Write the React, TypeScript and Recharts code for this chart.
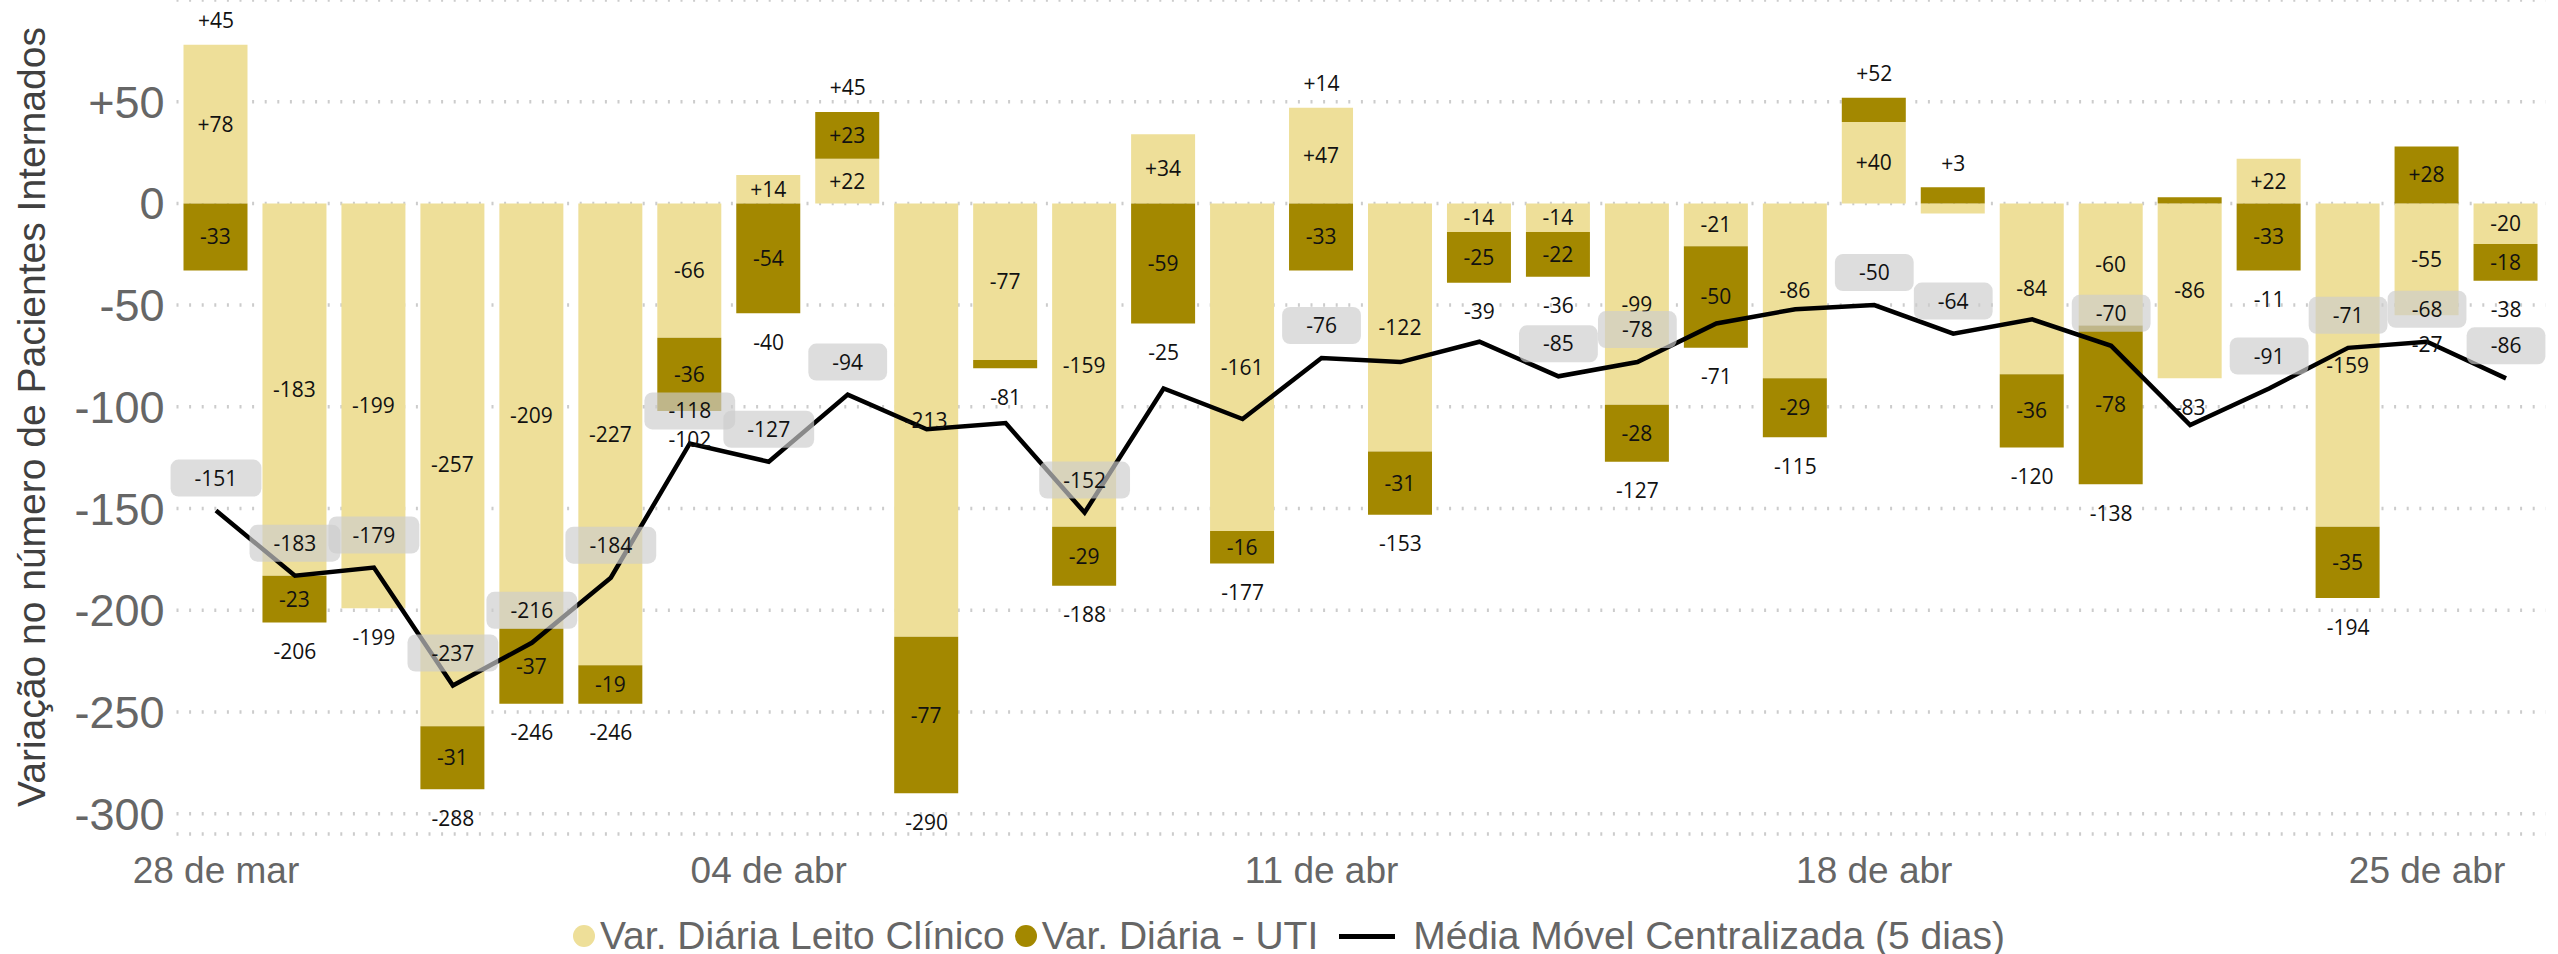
import { Bar, CartesianGrid, ComposedChart, LabelList, Line, XAxis, YAxis } from "recharts";

const dias = [
  "28 de mar", "29 de mar", "30 de mar", "31 de mar", "01 de abr", "02 de abr", "03 de abr",
  "04 de abr", "05 de abr", "06 de abr", "07 de abr", "08 de abr", "09 de abr", "10 de abr",
  "11 de abr", "12 de abr", "13 de abr", "14 de abr", "15 de abr", "16 de abr", "17 de abr",
  "18 de abr", "19 de abr", "20 de abr", "21 de abr", "22 de abr", "23 de abr", "24 de abr",
  "25 de abr", "26 de abr",
];

// Var. Diária Leito Clínico
const leitoClinico = [
  78, -183, -199, -257, -209, -227, -66, 14, 22, -213, -77, -159, 34, -161, 47,
  -122, -14, -14, -99, -21, -86, 40, -5, -84, -60, -86, 22, -159, -55, -20,
];

// Var. Diária - UTI
const uti = [
  -33, -23, 0, -31, -37, -19, -36, -54, 23, -77, -4, -29, -59, -16, -33,
  -31, -25, -22, -28, -50, -29, 12, 8, -36, -78, 3, -33, -35, 28, -18,
];

// Média Móvel Centralizada (5 dias)
const mediaMovel = [
  -151, -183, -179, -237, -216, -184, -118, -127, -94, -111, -108, -152, -91, -106, -76,
  -78, -68, -85, -78, -59, -52, -50, -64, -57, -70, -109, -91, -71, -68, -86,
];

// rótulos da média que o Power BI escondeu por sobreposição
const mediaSemRotulo = [9, 10, 12, 13, 15, 16, 19, 20, 23, 25];

const yTicks = [50, 0, -50, -100, -150, -200, -250, -300];

const CLARO = "#EEDF99";
const ESCURO = "#A38800";
const LABEL_FONT = "'Open Sans', 'Noto Sans', sans-serif";
const AXIS_FONT = "'Liberation Sans', Arial, sans-serif";

const data = dias.map((d, i) => {
  const c = leitoClinico[i];
  const u = uti[i];
  const total = c + u;
  const pos = Math.max(0, c) + Math.max(0, u);
  const neg = Math.min(0, c) + Math.min(0, u);
  return { dia: d, clinico: c, uti: u, total, ancora: total >= 0 ? pos : neg, media: mediaMovel[i] };
});

const fmt = (v: number) => (v > 0 ? `+${v}` : `${v}`);

const segmentLabel = (props: any) => {
  const vb = props.viewBox || props;
  const v = Number(props.value);
  if (!v || Math.abs(v) < 13) return null;
  const cx = vb.x + vb.width / 2;
  const cy = vb.y + vb.height / 2;
  return (
    <text x={cx} y={cy + 7.5} textAnchor="middle" fontFamily={LABEL_FONT} fontSize={21} fill="#111">
      {fmt(v)}
    </text>
  );
};

const totalLabel = (props: any) => {
  const vb = props.viewBox || props;
  const i = props.index;
  const t = data[i].total;
  const y = t >= 0 ? vb.y - 16.5 : vb.y + 36.5;
  return (
    <text key={`t-${i}`} x={vb.x} y={y} textAnchor="middle" fontFamily={LABEL_FONT} fontSize={21} fill="#111">
      {fmt(t)}
    </text>
  );
};

const mediaLabel = (props: any) => {
  const vb = props.viewBox || props;
  const i = props.index;
  if (mediaSemRotulo.includes(i)) return null;
  const txt = fmt(mediaMovel[i]);
  const digits = txt.replace("-", "").length;
  const w = 48 + 6.8 + digits * 12;
  const h = 37;
  const top = vb.y - 14 - h;
  return (
    <g key={`m-${i}`}>
      <rect x={vb.x - w / 2} y={top} width={w} height={h} rx={8} ry={8} fill="#cdcdcd" fillOpacity={0.67} />
      <text x={vb.x} y={top + h / 2 + 7.5} textAnchor="middle" fontFamily={LABEL_FONT} fontSize={21} fill="#111">
        {txt}
      </text>
    </g>
  );
};

const YTick = (props: any) => (
  <text x={props.x} y={props.y + 16} textAnchor="end" fontFamily={AXIS_FONT} fontSize={45} fill="#666">
    {fmt(props.payload.value)}
  </text>
);

const XTick = (props: any) => (
  <text x={props.x} y={props.y + 49} textAnchor="middle" fontFamily={AXIS_FONT} fontSize={37} fill="#666">
    {props.payload.value}
  </text>
);

const yTitle = (props: any) => {
  const vb = props.viewBox;
  const cy = vb.y + vb.height / 2;
  return (
    <text
      x={45}
      y={cy}
      transform={`rotate(-90, 45, ${cy})`}
      textAnchor="middle"
      fontFamily={AXIS_FONT}
      fontSize={39}
      fill="#404040"
    >
      Variação no número de Pacientes Internados
    </text>
  );
};

function Legenda() {
  const dot = (c: string) => (
    <span style={{ width: 22, height: 22, borderRadius: 11, background: c, display: "inline-block", marginRight: 5 }} />
  );
  return (
    <div
      style={{
        position: "absolute",
        left: 573,
        top: 911,
        height: 50,
        display: "flex",
        alignItems: "center",
        fontFamily: AXIS_FONT,
        fontSize: 39,
        color: "#666",
        whiteSpace: "nowrap",
        lineHeight: "50px",
      }}
    >
      {dot(CLARO)}
      <span style={{ marginRight: 10 }}>Var. Diária Leito Clínico</span>
      {dot(ESCURO)}
      <span style={{ marginRight: 21 }}>Var. Diária - UTI</span>
      <span style={{ width: 56, height: 5, background: "#000", display: "inline-block", marginRight: 18 }} />
      <span>Média Móvel Centralizada (5 dias)</span>
    </div>
  );
}

export default function App() {
  return (
    <div style={{ position: "absolute", left: 0, top: 0, width: 2558, height: 954, background: "#fff" }}>
      <ComposedChart
        width={2558}
        height={954}
        data={data}
        stackOffset="sign"
        margin={{ top: 0, right: 12.5, bottom: 60, left: 0 }}
      >
        <CartesianGrid vertical={false} stroke="#cccccc" strokeWidth={3.5} strokeDasharray="2 10.6" />
        <XAxis
          dataKey="dia"
          interval={6}
          axisLine={false}
          tickLine={false}
          tickSize={0}
          tickMargin={0}
          height={60}
          tick={<XTick />}
        />
        <YAxis
          type="number"
          domain={[-310, 100]}
          ticks={yTicks}
          width={176.5}
          axisLine={false}
          tickLine={false}
          tickSize={0}
          tickMargin={12}
          tick={<YTick />}
          label={{ content: yTitle }}
        />
        <Bar dataKey="clinico" stackId="a" fill={CLARO} barSize={64} isAnimationActive={false}>
          <LabelList dataKey="clinico" content={segmentLabel} />
        </Bar>
        <Bar dataKey="uti" stackId="a" fill={ESCURO} barSize={64} isAnimationActive={false}>
          <LabelList dataKey="uti" content={segmentLabel} />
        </Bar>
        <Line
          dataKey="ancora"
          stroke="none"
          dot={false}
          activeDot={false}
          legendType="none"
          isAnimationActive={false}
        >
          <LabelList dataKey="total" content={totalLabel} />
        </Line>
        <Line
          dataKey="media"
          type="linear"
          stroke="#000"
          strokeWidth={4.5}
          dot={false}
          activeDot={false}
          isAnimationActive={false}
        >
          <LabelList dataKey="media" content={mediaLabel} />
        </Line>
      </ComposedChart>
      <Legenda />
    </div>
  );
}
